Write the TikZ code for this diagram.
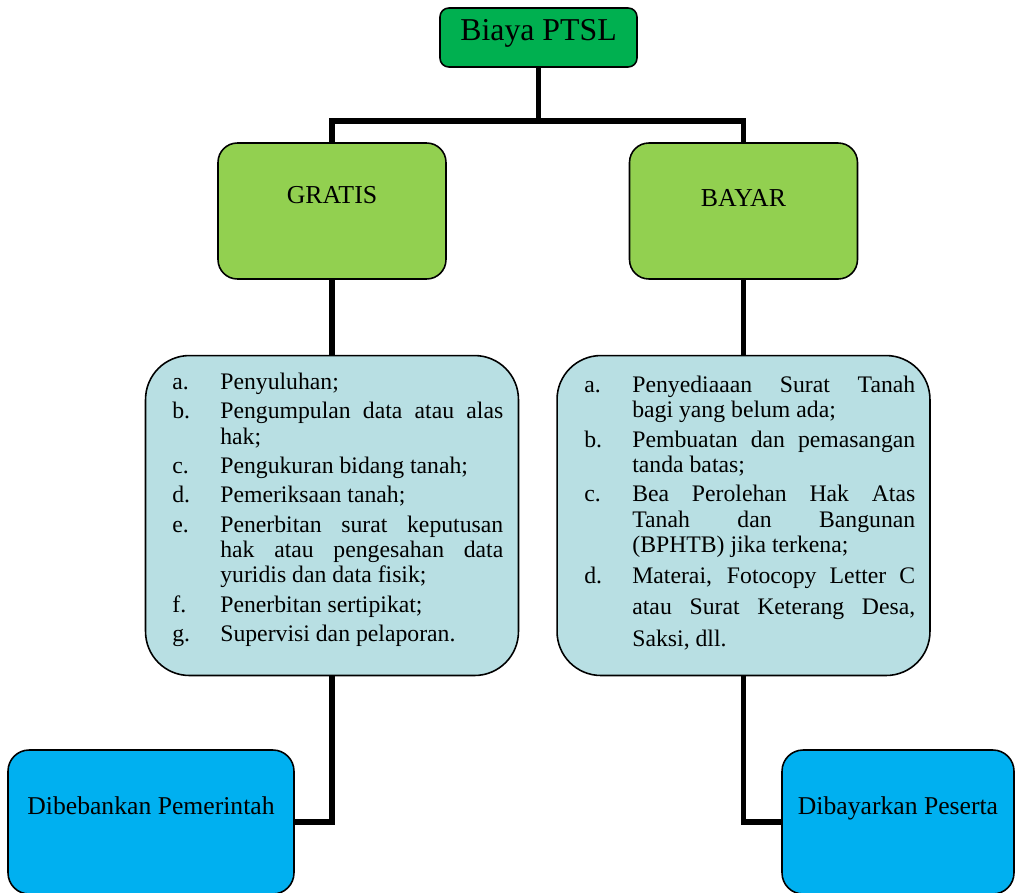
\documentclass[tikz,border=0pt]{standalone}
\usepackage{fontspec}
\setmainfont{Liberation Serif}
\usetikzlibrary{positioning}

\definecolor{titlegreen}{HTML}{00B050}
\definecolor{lightgreen}{HTML}{92D050}
\definecolor{paleblue}{RGB}{184,223,227}
\definecolor{skyblue}{HTML}{00B0F0}

% one list entry with hanging label
\newcommand{\butir}[2]{\par\hangindent=0.96cm\hangafter=1\noindent\makebox[0.96cm][l]{#1}#2\par}

\begin{document}
\begin{tikzpicture}[
  x=0.02cm, y=-0.02cm,
  box/.style={rectangle, draw, line width=0.9pt, align=center, inner sep=0pt},
  headbox/.style={box, fill=titlegreen, rounded corners=5pt, minimum width=3.94cm, minimum height=1.18cm,
    font=\fontsize{18.1pt}{20pt}\selectfont, text height=0.44cm, text depth=0.30cm},
  kindbox/.style={box, fill=lightgreen, rounded corners=11pt, minimum width=4.56cm, minimum height=2.72cm,
    font=\fontsize{14.7pt}{17pt}\selectfont, text height=0.34cm},
  listbox/.style={box, fill=paleblue, rounded corners=25pt, minimum width=7.46cm, minimum height=6.4cm},
  itemtext/.style={anchor=north west, inner sep=0pt, text width=6.62cm, align=justify,
    font=\fontsize{13.5pt}{14.45pt}\selectfont\setlength{\parskip}{2.2pt}},
  payerbox/.style={box, fill=skyblue, rounded corners=12pt, minimum height=2.88cm,
    font=\fontsize{14.6pt}{17pt}\selectfont, text height=0.34cm, text depth=0.66cm},
  link/.style={line width=3.1pt}
]
\clip (0,0) rectangle (1020,892);

\node[headbox] (title) at (538.5,37.5) {Biaya PTSL};
\node[kindbox, text depth=0.66cm] (gratis) at (332,211) {GRATIS};
\node[kindbox, text depth=0.54cm] (bayar) at (743.5,211) {BAYAR};

\node[listbox, below=1.5cm of gratis] (gratislist) {};
\node[listbox, below=1.5cm of bayar] (bayarlist) {};

\node[itemtext] (gratisitems) at (172,360) {%
\butir{a.}{Penyuluhan;}
\butir{b.}{Pengumpulan data atau alas\linebreak hak;}
\butir{c.}{Pengukuran bidang tanah;}
\butir{d.}{Pemeriksaan tanah;}
\butir{e.}{Penerbitan surat keputusan\linebreak hak atau pengesahan data\linebreak yuridis dan data fisik;}
\butir{f.}{Penerbitan sertipikat;}
\butir{g.}{Supervisi dan pelaporan.}};

\node[itemtext] (bayaritems) at (584,363) {%
\butir{a.}{Penyediaaan Surat Tanah\linebreak bagi yang belum ada;}
\butir{b.}{Pembuatan dan pemasangan\linebreak tanda batas;}
\butir{c.}{Bea Perolehan Hak Atas\linebreak Tanah dan Bangunan\linebreak (BPHTB) jika terkena;}
\vspace{-2.8pt}
\butir{d.}{\setlength{\baselineskip}{18pt}Materai, Fotocopy Letter C\linebreak atau Surat Keterang Desa,\linebreak Saksi, dll.}};

\node[payerbox, minimum width=5.72cm] (pemerintah) at (151,822) {Dibebankan Pemerintah};
\node[payerbox, minimum width=4.64cm] (peserta) at (898,822) {Dibayarkan Peserta};

\draw[link] (title.south) -- ++(0,53) -| (gratis.north);
\draw[link] (title.south) -- ++(0,53) -| (bayar.north);
\draw[link] (gratis.south) -- (gratislist.north);
\draw[link] (bayar.south) -- (bayarlist.north);
\draw[link] (gratislist.south) |- (pemerintah.east);
\draw[link] (bayarlist.south) |- (peserta.west);
\end{tikzpicture}
\end{document}
